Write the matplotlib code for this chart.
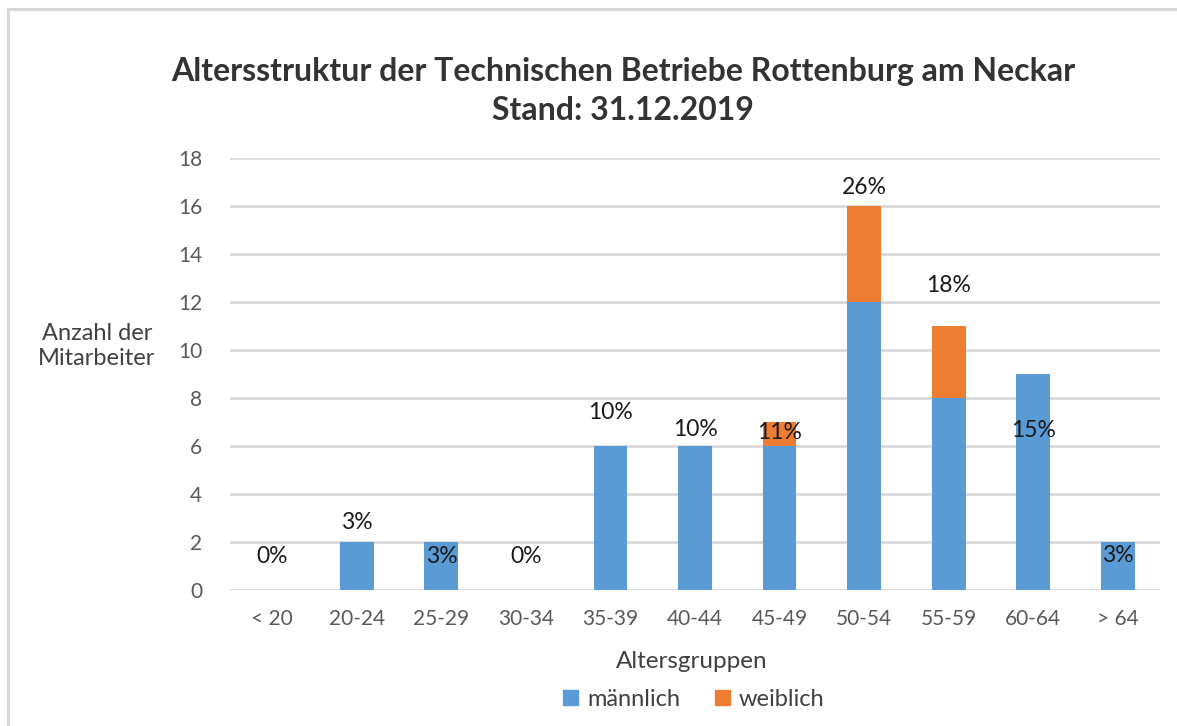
import matplotlib
matplotlib.use("Agg")
import matplotlib.pyplot as plt
from matplotlib.lines import Line2D
from matplotlib.patches import Patch

categories = ["< 20", "20-24", "25-29", "30-34", "35-39", "40-44", "45-49", "50-54", "55-59", "60-64", "> 64"]
maennlich = [0, 2, 2, 0, 6, 6, 6, 12, 8, 9, 2]
weiblich = [0, 0, 0, 0, 0, 0, 1, 4, 3, 0, 0]
pct_labels = ["0%", "3%", "3%", "0%", "10%", "10%", "11%", "26%", "18%", "15%", "3%"]
y_ticks = [0, 2, 4, 6, 8, 10, 12, 14, 16, 18]

# label placement (layout, in data units)
label_y = [1.4, 2.8, 1.4, 1.4, 7.4, 6.7, 6.55, 16.75, 12.7, 6.65, 1.45]

plt.rcParams['font.family'] = ['Lato', 'DejaVu Sans']
W, H = 1177, 726
fig = plt.figure(figsize=(W / 100, H / 100), dpi=100)
fig.patch.set_facecolor("white")

# chart frame lines (top and left)
fig.add_artist(Line2D([8 / W, 1.0], [1 - 9 / H, 1 - 9 / H], color="#d9d9d9", lw=2.2, transform=fig.transFigure))
fig.add_artist(Line2D([8 / W, 8 / W], [0, 1 - 9 / H], color="#d9d9d9", lw=2.2, transform=fig.transFigure))

left, right = 230 / W, 1160 / W
bottom, top = 1 - 590 / H, 1 - 158 / H
ax = fig.add_axes([left, bottom, right - left, top - bottom])

blue = "#5b9bd5"
orange = "#ed7d31"
x = list(range(len(categories)))
ax.bar(x, maennlich, width=0.4, color=blue, zorder=3, label="männlich")
ax.bar(x, weiblich, width=0.4, bottom=maennlich, color=orange, zorder=3, label="weiblich")

for xi, t, yl in zip(x, pct_labels, label_y):
    ax.text(xi, yl, t, ha="center", va="center", fontsize=16.5, color="#1a1a1a", zorder=5)

ax.set_xlim(-0.5, len(categories) - 0.5)
ax.set_ylim(0, 18)
ax.set_yticks(y_ticks)
ax.set_xticks(x)
ax.set_xticklabels(categories)
ax.yaxis.grid(True, color="#d9d9d9", lw=2, zorder=0)
ax.set_axisbelow(True)
for s in ax.spines.values():
    s.set_visible(False)
ax.tick_params(axis="both", length=0, labelsize=15, labelcolor="#595959")
ax.tick_params(axis="y", pad=20)
ax.tick_params(axis="x", pad=14)

fig.text(97 / W, 1 - 346 / H, "Anzahl der\nMitarbeiter", ha="center", va="center",
         fontsize=17, color="#404040", linespacing=1.25)
fig.text(692 / W, 1 - 662 / H, "Altersgruppen", ha="center", va="center",
         fontsize=17.5, color="#404040")
fig.text(623 / W, 1 - 72 / H, "Altersstruktur der Technischen Betriebe Rottenburg am Neckar",
         ha="center", va="center", fontsize=23, fontweight="bold", color="#333333")
fig.text(623 / W, 1 - 110 / H, "Stand: 31.12.2019",
         ha="center", va="center", fontsize=23, fontweight="bold", color="#333333")

handles = [Patch(color=blue, label="männlich"), Patch(color=orange, label="weiblich")]
fig.legend(handles=handles, loc="center", bbox_to_anchor=(694 / W, 1 - 699 / H), ncol=2,
           frameon=False, fontsize=17, handlelength=0.6, handleheight=0.6,
           columnspacing=1.5, handletextpad=0.4, labelcolor="#404040")

fig.savefig("out.png", dpi=100, facecolor="white")
